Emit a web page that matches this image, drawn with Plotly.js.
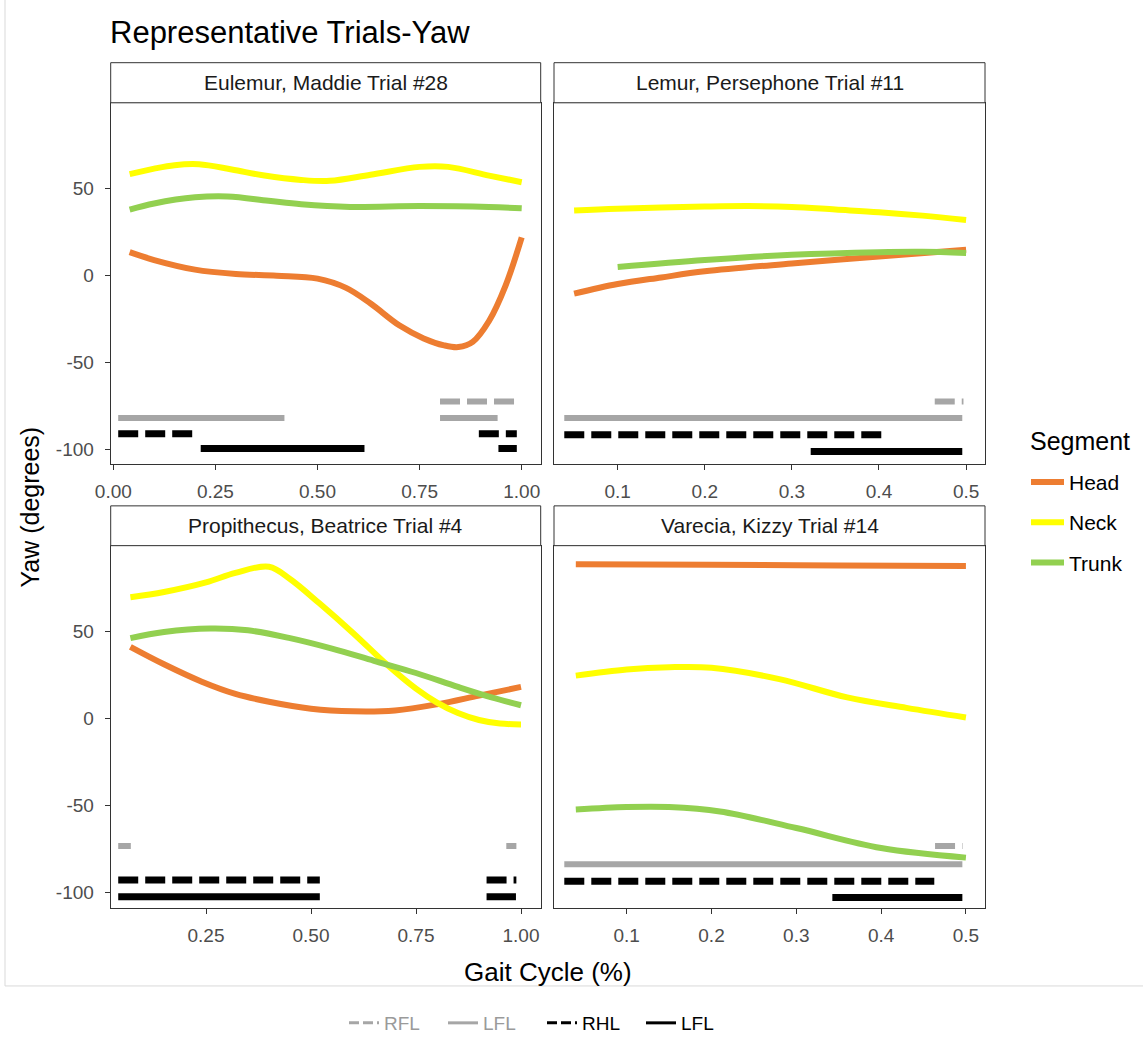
<!DOCTYPE html>
<html>
<head>
<meta charset="utf-8">
<script src="https://cdn.plot.ly/plotly-3.0.1.min.js"></script>
<style>
html,body{margin:0;padding:0;background:#fff;}
#chart{width:1143px;height:1042px;}
</style>
</head>
<body>
<div id="chart"></div>
<script>
// ---------- Data ----------
const panelTitles = ["Eulemur, Maddie Trial #28", "Lemur, Persephone Trial #11", "Propithecus, Beatrice Trial #4", "Varecia, Kizzy Trial #14"];
const segmentNames = ["Head", "Neck", "Trunk"];
const gaitNames = ["RFL", "LFL", "RHL", "LFL"];

// Panel 1: Eulemur
const eulHeadX = [0.04, 0.10, 0.20, 0.30, 0.40, 0.50, 0.57, 0.63, 0.70, 0.76, 0.81, 0.845, 0.88, 0.92, 0.96, 1.00];
const eulHeadY = [13.5, 9, 3.5, 1, 0, -1.7, -7, -16, -28.5, -36, -40, -41, -38, -26, -6, 22];
const eulNeckX = [0.04, 0.10, 0.15, 0.21, 0.29, 0.37, 0.46, 0.53, 0.63, 0.75, 0.82, 0.92, 1.00];
const eulNeckY = [58.3, 61.5, 63.5, 64, 61, 57.5, 55, 54.5, 58, 62.5, 62.5, 57.5, 53.7];
const eulTrunkX = [0.04, 0.10, 0.20, 0.28, 0.38, 0.46, 0.58, 0.75, 0.92, 1.00];
const eulTrunkY = [38, 41.5, 45, 45.5, 43, 41, 39.5, 40, 39.5, 38.7];

// Panel 2: Lemur
const lemHeadX = [0.05, 0.10, 0.15, 0.20, 0.30, 0.40, 0.50];
const lemHeadY = [-10.3, -4.8, -1, 2.5, 7, 11, 14.9];
const lemNeckX = [0.05, 0.10, 0.20, 0.25, 0.30, 0.35, 0.40, 0.45, 0.50];
const lemNeckY = [37.5, 38.5, 39.7, 40, 39.5, 38, 36.5, 34.5, 32];
const lemTrunkX = [0.10, 0.20, 0.30, 0.40, 0.45, 0.50];
const lemTrunkY = [5, 9, 12, 13.5, 13.7, 13.1];

// Panel 3: Propithecus
const proHeadX = [0.07, 0.15, 0.24, 0.32, 0.40, 0.50, 0.60, 0.70, 0.80, 0.90, 1.00];
const proHeadY = [41, 31, 21, 14, 9.5, 5.5, 4, 4.5, 8, 13, 18];
const proNeckX = [0.07, 0.15, 0.25, 0.32, 0.40, 0.45, 0.52, 0.60, 0.68, 0.75, 0.80, 0.85, 0.90, 0.95, 1.00];
const proNeckY = [69.5, 72.5, 78, 83.5, 87, 80, 66, 49, 31, 17, 9, 3, -1, -3, -3.5];
const proTrunkX = [0.07, 0.15, 0.26, 0.35, 0.45, 0.55, 0.65, 0.75, 0.85, 0.93, 1.00];
const proTrunkY = [46, 49.5, 51.5, 50.5, 46, 40, 33, 26, 18, 12, 7.5];

// Panel 4: Varecia
const varHeadX = [0.04, 0.20, 0.35, 0.50];
const varHeadY = [88.5, 88.2, 87.7, 87.5];
const varNeckX = [0.04, 0.10, 0.15, 0.20, 0.28, 0.36, 0.43, 0.50];
const varNeckY = [24.5, 28, 29.3, 29, 22.5, 12, 6, 0.5];
const varTrunkX = [0.04, 0.10, 0.15, 0.21, 0.30, 0.40, 0.50];
const varTrunkY = [-52.4, -51, -51, -53.5, -63, -74.5, -80];

// Gait bars: [start, end] pairs, and level per panel
const eulRFL = [[0.800, 0.984]];
const eulLFLf = [[0.012, 0.419], [0.800, 0.941]];
const eulRHL = [[0.012, 0.196], [0.895, 0.988]];
const eulLFLh = [[0.214, 0.615], [0.943, 0.988]];
const eulLevels = [-72.2, -81.7, -90.7, -99.3];

const lemRFL = [[0.464, 0.497]];
const lemLFLf = [[0.0387, 0.4956]];
const lemRHL = [[0.0387, 0.4077]];
const lemLFLh = [[0.3216, 0.4956]];
const lemLevels = [-72.2, -81.7, -91.3, -101];

const proRFL = [[0.041, 0.071], [0.965, 0.989]];
const proLFLf = [];
const proRHL = [[0.041, 0.521], [0.918, 0.989]];
const proLFLh = [[0.041, 0.521], [0.918, 0.988]];
const proLevels = [-73.3, -83, -92.9, -102.5];

const varRFL = [[0.4636, 0.496]];
const varLFLf = [[0.0264, 0.4958]];
const varRHL = [[0.0264, 0.4627]];
const varLFLh = [[0.3425, 0.4958]];
const varLevels = [-73.3, -83.8, -93.5, -102.9];

// Tick labels
const yTickVals = [-100, -50, 0, 50];
const yTickText = ["-100", "-50", "0", "50"];
const xTicks1 = [0, 0.25, 0.5, 0.75, 1.0];
const xTickText1 = ["0.00", "0.25", "0.50", "0.75", "1.00"];
const xTicks2 = [0.1, 0.2, 0.3, 0.4, 0.5];
const xTickText2 = ["0.1", "0.2", "0.3", "0.4", "0.5"];
const xTicks3 = [0.25, 0.5, 0.75, 1.0];
const xTickText3 = ["0.25", "0.50", "0.75", "1.00"];

// ---------- Styles ----------
const segColors = {Head: "#ED7D31", Neck: "#FFFF00", Trunk: "#92D050"};
const gaitStyles = [
  {color: "#A6A6A6", dash: "20px,7px", width: 6},
  {color: "#A6A6A6", dash: "solid", width: 6},
  {color: "#000000", dash: "20px,7px", width: 7},
  {color: "#000000", dash: "solid", width: 7}
];
const FONT = "Liberation Sans, Arial, Helvetica, sans-serif";
const TICK = 19;

const traces = [];
function seg(x, y, name, ax, show) {
  traces.push({
    x: x, y: y, type: "scatter", mode: "lines", name: name,
    line: {color: segColors[name], width: 6, shape: "spline", smoothing: 1},
    xaxis: "x" + ax, yaxis: "y" + ax, legendgroup: name, showlegend: show, hoverinfo: "skip"
  });
}
function bars(pairs, level, gi, ax) {
  const xs = [], ys = [];
  pairs.forEach(p => { xs.push(p[0], p[1], null); ys.push(level, level, null); });
  if (!xs.length) return;
  const s = gaitStyles[gi];
  traces.push({
    x: xs, y: ys, type: "scatter", mode: "lines", showlegend: false,
    line: {color: s.color, dash: s.dash, width: s.width},
    xaxis: "x" + ax, yaxis: "y" + ax, hoverinfo: "skip"
  });
}

const panels = [
  {ax: "", h: [eulHeadX, eulHeadY], n: [eulNeckX, eulNeckY], t: [eulTrunkX, eulTrunkY], g: [eulRFL, eulLFLf, eulRHL, eulLFLh], lv: eulLevels},
  {ax: "2", h: [lemHeadX, lemHeadY], n: [lemNeckX, lemNeckY], t: [lemTrunkX, lemTrunkY], g: [lemRFL, lemLFLf, lemRHL, lemLFLh], lv: lemLevels},
  {ax: "3", h: [proHeadX, proHeadY], n: [proNeckX, proNeckY], t: [proTrunkX, proTrunkY], g: [proRFL, proLFLf, proRHL, proLFLh], lv: proLevels},
  {ax: "4", h: [varHeadX, varHeadY], n: [varNeckX, varNeckY], t: [varTrunkX, varTrunkY], g: [varRFL, varLFLf, varRHL, varLFLh], lv: varLevels}
];
panels.forEach((p, i) => {
  p.g.forEach((pairs, gi) => bars(pairs, p.lv[gi], gi, p.ax));
  seg(p.h[0], p.h[1], "Head", p.ax, i === 0);
  seg(p.n[0], p.n[1], "Neck", p.ax, i === 0);
  seg(p.t[0], p.t[1], "Trunk", p.ax, i === 0);
});

// Legend-only entries for the gait legend
const gaitLegendColors = ["#9a9a9a", "#9a9a9a", "#000000", "#000000"];
gaitNames.forEach((nm, gi) => {
  const s = gaitStyles[gi];
  traces.push({
    x: [null], y: [null], type: "scatter", mode: "lines",
    name: '<span style="color:' + gaitLegendColors[gi] + '">' + nm + '</span>',
    line: {color: s.color, dash: s.dash === "solid" ? "solid" : "10px,4px", width: 3},
    legend: "legend2", showlegend: true, hoverinfo: "skip"
  });
});

// ---------- Layout ----------
const W = 1143, H = 1042;
const px = v => v / W;
const py = v => 1 - v / H;
const colL = [px(110.7), px(540.7)], colR = [px(554), px(985)];
const rowT = [py(466), py(103.3)], rowB = [py(912.7), py(548.3)];

function xax(domain, anchor, range, tv, tt) {
  return {domain: domain, anchor: anchor, range: range, tickvals: tv, ticktext: tt,
    showline: true, mirror: true, linecolor: "#333333", linewidth: 1,
    ticks: "outside", ticklen: 5, tickcolor: "#333333", tickwidth: 1, ticklabelstandoff: 5,
    tickfont: {size: TICK, color: "#4d4d4d", family: FONT}, showgrid: false, zeroline: false, fixedrange: true};
}
function yax(domain, anchor, range, showLabels) {
  return {domain: domain, anchor: anchor, range: range, tickvals: yTickVals, ticktext: yTickText,
    showline: true, mirror: true, linecolor: "#333333", linewidth: 1,
    ticks: showLabels ? "outside" : "", ticklen: 5, tickcolor: "#333333", tickwidth: 1, ticklabelstandoff: 7,
    showticklabels: showLabels,
    tickfont: {size: TICK, color: "#4d4d4d", family: FONT}, showgrid: false, zeroline: false, fixedrange: true};
}

const stripT = [py(103.3), py(63)], stripB = [py(548.3), py(508.3)];
const strips = [[colL, stripT], [colR, stripT], [colL, stripB], [colR, stripB]];
const shapes = [{type: "rect", xref: "paper", yref: "paper", x0: px(5), x1: 1.05, y0: py(990.7), y1: 1.05,
  line: {color: "#d9d9d9", width: 1}, fillcolor: "rgba(0,0,0,0)", layer: "below"}];
const annotations = [];
strips.forEach((s, i) => {
  shapes.push({type: "rect", xref: "paper", yref: "paper", x0: s[0][0], x1: s[0][1], y0: s[1][0], y1: s[1][1],
    line: {color: "#333333", width: 1}, fillcolor: "#ffffff"});
  annotations.push({xref: "paper", yref: "paper", x: (s[0][0] + s[0][1]) / 2, y: (s[1][0] + s[1][1]) / 2,
    text: panelTitles[i], showarrow: false, xanchor: "center", yanchor: "middle",
    font: {size: 21, color: "#1a1a1a", family: FONT}});
});
annotations.push({xref: "paper", yref: "paper", x: px(108), y: py(33), text: "Representative Trials-Yaw",
  showarrow: false, xanchor: "left", yanchor: "middle", font: {size: 31, color: "#000", family: FONT}});
annotations.push({xref: "paper", yref: "paper", x: px(30), y: py(510), text: "Yaw (degrees)", textangle: -90,
  showarrow: false, xanchor: "center", yanchor: "middle", font: {size: 25, color: "#000", family: FONT}});
annotations.push({xref: "paper", yref: "paper", x: px(548), y: py(977), text: "Gait Cycle (%)",
  showarrow: false, xanchor: "center", yanchor: "middle", font: {size: 26, color: "#000", family: FONT}});
annotations.push({xref: "paper", yref: "paper", x: px(1028), y: py(443), text: "Segment",
  showarrow: false, xanchor: "left", yanchor: "middle", font: {size: 25, color: "#000", family: FONT}});

const layout = {
  width: W, height: H, margin: {l: 0, r: 0, t: 0, b: 0},
  paper_bgcolor: "#ffffff", plot_bgcolor: "#ffffff",
  font: {family: FONT},
  showlegend: true,
  xaxis: xax(colL, "y", [-0.0064, 1.0465], xTicks1, xTickText1),
  yaxis: yax(rowT, "x", [-108, 99.3], true),
  xaxis2: xax(colR, "y2", [0.0269, 0.5217], xTicks2, xTickText2),
  yaxis2: yax(rowT, "x2", [-108, 99.3], false),
  xaxis3: xax(colL, "y3", [0.0231, 1.0469], xTicks3, xTickText3),
  yaxis3: yax(rowB, "x3", [-109.1, 99.1], true),
  xaxis4: xax(colR, "y4", [0.01427, 0.5225], xTicks2, xTickText2),
  yaxis4: yax(rowB, "x4", [-109.1, 99.1], false),
  legend: {x: px(1026), y: py(464), xanchor: "left", yanchor: "top", tracegroupgap: 10,
    font: {size: 21, color: "#000", family: FONT}, bgcolor: "rgba(0,0,0,0)", itemwidth: 33},
  legend2: {orientation: "h", x: px(344), y: py(1028), xanchor: "left", yanchor: "middle",
    font: {size: 19, color: "#000", family: FONT}, bgcolor: "rgba(0,0,0,0)", traceorder: "normal",
    itemwidth: 30, entrywidth: 54},
  shapes: shapes,
  annotations: annotations
};

Plotly.newPlot("chart", traces, layout, {staticPlot: true, displayModeBar: false});
</script>
</body>
</html>
